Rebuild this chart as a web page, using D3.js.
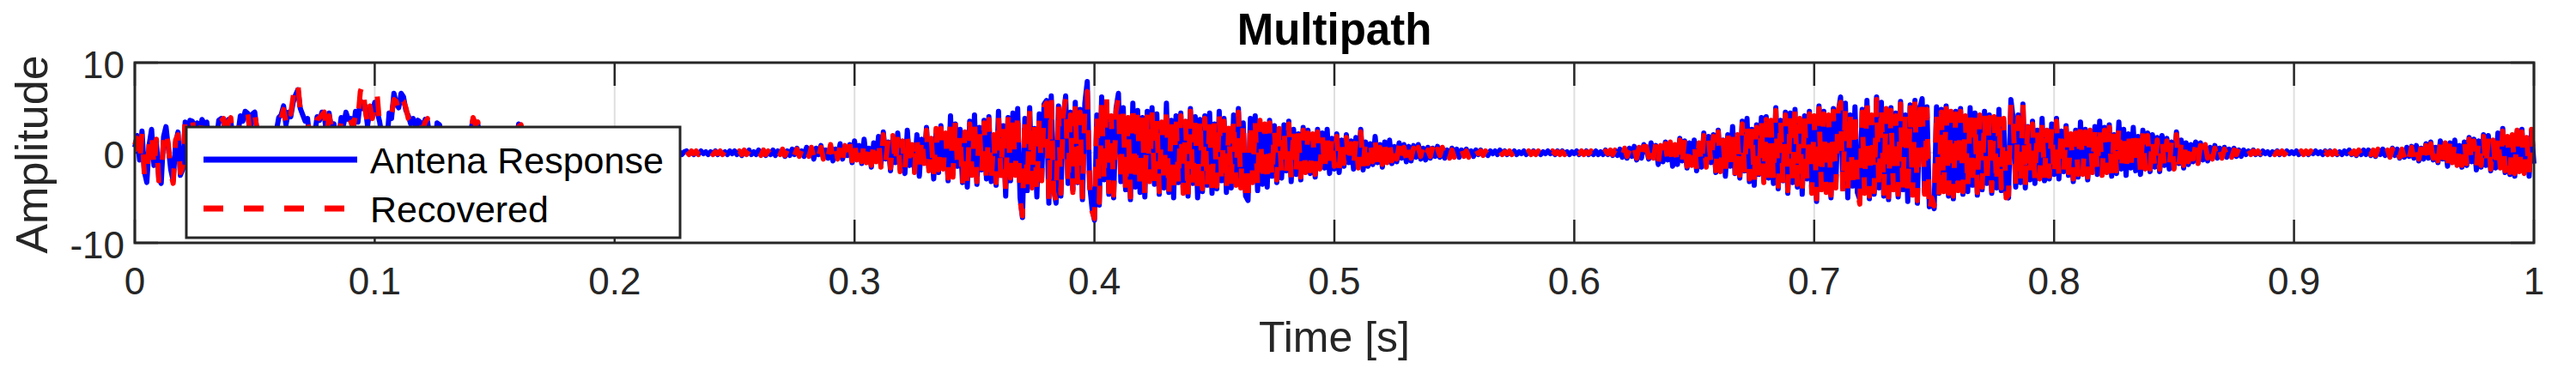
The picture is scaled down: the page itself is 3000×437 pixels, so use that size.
<!DOCTYPE html>
<html>
<head>
<meta charset="utf-8">
<script src="https://cdn.jsdelivr.net/npm/d3@7"></script>
<style>
  html, body { margin: 0; padding: 0; background: #fff; }
  svg { display: block; }
  text { font-family: "Liberation Sans", Arial, Helvetica, sans-serif; }
</style>
</head>
<body>
<svg id="chart" width="3000" height="437"></svg>
<script>
// ---- Data ----
const chartTitle = "Multipath";
const xLabel = "Time [s]";
const yLabel = "Amplitude";
const seriesNames = ["Antena Response", "Recovered"];
const sampleStep = 0.001; // seconds between samples, t = 0 .. 1

const xTickValues = [0, 0.1, 0.2, 0.3, 0.4, 0.5, 0.6, 0.7, 0.8, 0.9, 1];
const xTickLabels = ["0", "0.1", "0.2", "0.3", "0.4", "0.5", "0.6", "0.7", "0.8", "0.9", "1"];
const yTickValues = [-10, 0, 10];
const yTickLabels = ["-10", "0", "10"];

// one row = 10 samples = 0.01 s
const antenna = [
  0.6,1.9,-0.8,2.4,-2.1,-3.3,0.9,2.6,-1.4,1.2,
  -2.8,-3.4,1.8,2.9,0.5,-1.9,-3.1,1.1,2.3,-2.5,
  -1.8,3.4,1.2,3.6,3.5,0.8,3.3,1.5,3.7,3.2,
  3.4,0.9,1.6,0.5,1.2,3.6,3.8,3.5,1.4,3.7,
  3.6,1.0,0.7,2.1,4.1,3.5,4.6,4.4,2.5,4.3,
  4.5,2.2,1.3,0.8,1.9,0.6,1.4,0.9,1.7,2.4,
  3.9,4.2,5.2,3.1,4.5,4.0,5.6,6.4,7.0,4.9,
  4.2,3.5,3.8,1.3,0.9,2.1,4.0,3.6,4.5,4.2,
  1.8,4.4,2.5,3.2,1.0,1.6,3.9,3.1,4.5,3.7,
  3.8,2.4,4.6,3.4,5.8,4.9,5.2,3.0,4.8,4.1,
  5.6,4.6,3.5,1.9,1.2,0.8,4.4,3.8,6.6,5.4,
  5.0,6.6,6.2,4.7,4.1,3.2,3.8,2.9,3.6,3.4,
  2.2,3.7,3.5,1.5,1.0,0.6,3.3,3.1,1.9,0.8,
  1.6,0.4,0.9,1.3,2.4,0.7,1.1,0.5,1.8,1.2,
  2.4,3.7,3.4,3.1,1.2,0.7,1.8,0.9,0.4,1.3,
  1.8,0.4,1.3,0.6,2.1,1.5,0.8,1.9,2.6,1.1,
  3.2,2.8,1.2,0.4,-0.8,1.5,0.3,-0.6,0.9,-1.1,
  0.5,1.0,-0.4,0.7,-0.9,0.3,0.8,-0.5,0.2,0.6,
  -0.7,0.4,-0.3,0.5,-0.6,0.3,-0.4,0.6,-0.2,0.3,
  -0.4,0.2,-0.3,0.4,-0.2,0.1,-0.3,0.2,-0.1,0.3,
  -0.2,0.2,-0.1,0.3,-0.3,0.1,-0.2,0.2,-0.1,0.1,
  -0.2,0.3,-0.1,0.2,-0.2,0.1,-0.3,0.2,-0.2,0.1,
  -0.1,0.2,-0.2,0.1,-0.1,0.2,-0.1,0.1,-0.2,0.1,
  0.2,-0.1,0.1,-0.2,0.1,-0.1,0.2,-0.1,0.1,-0.2,
  0.1,-0.1,0.2,-0.2,0.1,-0.1,0.1,-0.2,0.2,-0.1,
  0.2,-0.2,0.1,-0.3,0.2,-0.1,0.3,-0.2,0.1,-0.2,
  0.3,-0.2,0.2,-0.3,0.1,-0.2,0.3,-0.3,0.2,-0.1,
  0.3,-0.4,0.2,-0.3,0.4,-0.2,0.5,-0.3,0.2,-0.4,
  0.6,-0.3,0.4,-0.7,0.5,-0.2,0.8,-0.5,0.3,-0.6,
  0.7,-0.9,0.4,-0.5,1.0,-0.7,0.6,-0.3,0.9,-1.1,
  1.3,-0.6,0.8,-1.2,1.5,-0.9,0.5,-1.6,1.1,-0.8,
  1.8,-1.3,2.3,-0.7,1.2,-2.0,1.6,-1.1,2.2,-1.8,
  1.0,-2.3,2.5,-1.4,0.6,-1.9,2.0,-2.6,1.5,-0.9,
  2.8,-1.7,1.3,-2.9,2.4,-2.2,3.0,-1.5,1.9,-3.1,
  4.1,-2.4,3.2,-1.5,2.6,-3.3,2.0,-3.8,3.5,-2.2,
  4.2,-3.5,2.8,-1.9,3.6,-2.9,4.0,-3.2,1.7,-3.6,
  4.6,-2.5,3.0,-4.8,3.9,-3.1,4.4,-2.2,4.9,-5.0,
  -7.2,3.8,-4.2,5.0,-3.6,2.7,-4.9,4.3,-2.8,5.4,
  5.8,-5.6,6.3,-4.0,-5.6,5.2,-4.8,3.9,6.3,-3.4,
  4.5,-4.1,5.6,-3.3,4.8,-5.2,5.5,7.9,-3.5,-6.2,
  -7.5,4.2,-5.8,6.2,-3.0,5.5,-4.6,3.8,-5.0,4.9,
  6.6,-3.2,5.0,-4.1,3.6,-5.2,5.5,-3.8,4.7,-4.4,
  3.9,-4.9,4.6,-2.9,5.0,-3.5,4.3,-4.6,3.1,-3.9,
  5.5,-4.4,3.6,-5.0,4.1,-3.3,4.4,-4.2,3.2,-4.8,
  4.9,-3.4,4.0,-5.0,3.7,-4.3,4.1,-3.6,4.4,-4.5,
  3.2,-4.0,4.6,-3.1,3.8,-4.4,2.7,-3.9,4.2,-3.3,
  4.9,-3.6,3.3,-4.8,-5.3,3.8,-3.0,4.1,-4.2,3.3,
  -3.5,2.9,-3.8,3.6,-2.6,3.0,-3.3,2.4,-2.8,3.1,
  -2.0,3.5,-3.2,2.6,-2.4,2.1,-3.0,2.8,-1.9,2.5,
  -2.3,1.8,-2.7,2.6,-1.5,2.2,-1.7,2.6,-2.3,1.6,
  -1.8,2.1,-2.2,1.4,-1.5,2.0,-1.1,1.3,-1.8,1.7,
  -1.4,2.6,-1.9,1.2,-1.5,1.0,-1.3,1.8,-1.1,0.9,
  -1.6,1.2,-0.8,1.4,-1.2,0.7,-1.0,1.1,-0.6,0.9,
  -1.0,0.7,-0.9,0.8,-0.5,0.9,-0.7,0.5,-0.8,0.6,
  -0.6,0.5,-0.4,0.7,-0.5,0.4,-0.6,0.3,-0.4,0.5,
  -0.3,0.4,-0.5,0.3,-0.2,0.4,-0.3,0.2,-0.4,0.3,
  -0.2,0.3,-0.2,0.1,-0.3,0.2,-0.1,0.2,-0.2,0.3,
  -0.1,0.2,-0.2,0.1,-0.1,0.2,-0.2,0.1,-0.1,0.2,
  -0.2,0.1,-0.1,0.2,-0.1,0.1,-0.2,0.1,-0.1,0.2,
  -0.1,0.1,-0.2,0.2,-0.1,0.2,-0.1,0.1,-0.2,0.1,
  -0.1,0.2,-0.2,0.1,-0.1,0.2,-0.2,0.1,-0.2,0.2,
  -0.2,0.1,-0.2,0.3,-0.2,0.2,-0.3,0.2,-0.3,0.4,
  -0.5,0.3,-0.6,0.5,-0.4,0.7,-0.8,0.4,-0.6,0.9,
  0.5,-0.7,1.1,-0.4,0.8,-1.3,0.6,-1.0,1.2,-0.8,
  1.0,-1.5,0.7,-1.3,1.6,-0.9,1.3,-1.7,1.1,-1.2,
  1.4,-2.0,0.9,-1.6,2.2,-1.3,1.8,-1.1,2.0,-2.2,
  2.5,-1.8,1.4,-2.6,2.0,-1.5,2.9,-2.3,1.7,-2.8,
  3.5,-2.0,3.8,-3.2,2.6,-3.6,3.1,-2.4,3.9,-3.0,
  4.0,-2.8,3.3,-3.4,5.0,-4.0,3.6,-3.1,4.5,-4.5,
  4.4,-3.3,4.8,-3.8,3.5,-4.6,4.1,-2.9,4.6,-4.2,
  3.8,-5.4,5.2,-3.8,4.6,-4.1,3.9,-5.0,4.9,-3.6,
  4.4,6.2,-4.0,5.5,-5.0,4.2,-3.7,5.1,-4.4,-5.2,
  4.8,-4.2,5.8,-5.1,3.9,-4.6,6.2,-3.9,5.6,-4.8,
  4.6,-5.2,5.0,-3.8,4.4,-4.9,5.7,-4.1,4.2,-5.4,
  5.3,-4.4,5.8,-5.6,4.9,6.0,-4.3,5.1,-6.0,-5.3,
  -6.2,5.1,-4.5,4.8,-4.0,5.2,-4.8,4.3,-5.1,4.6,
  -3.9,4.9,-4.6,3.8,-4.3,5.0,-3.6,4.4,-4.7,3.9,
  -4.1,4.6,-3.4,4.2,-4.5,3.7,-3.9,4.8,-4.2,3.5,
  -4.6,-5.0,5.9,3.6,-3.8,4.2,-3.3,5.4,-3.9,2.9,
  -3.0,3.5,-3.4,2.5,-2.6,3.8,-3.1,2.2,-2.9,3.2,
  -2.4,3.8,-2.9,2.4,-2.1,3.0,-2.5,1.8,-3.2,2.5,
  -2.7,3.4,-2.1,2.6,-3.0,2.2,-1.9,2.9,-2.4,3.5,
  -2.2,2.8,-1.9,3.1,-2.6,2.0,-2.3,3.4,-1.8,2.6,
  -2.5,2.1,-1.7,2.8,-2.0,1.8,-2.4,2.5,-1.5,2.2,
  -2.1,2.0,-1.6,1.7,-2.1,1.9,-1.4,1.6,-1.8,1.2,
  -1.5,2.3,-1.2,1.4,-1.7,1.1,-1.3,0.9,-1.0,1.2,
  -0.9,1.1,-0.8,0.7,-0.9,0.6,-0.5,0.8,-0.6,0.5,
  -0.4,0.6,-0.5,0.4,-0.3,0.5,-0.4,0.3,-0.4,0.3,
  -0.2,0.2,-0.1,0.3,-0.2,0.1,-0.2,0.2,-0.1,0.1,
  -0.2,0.1,-0.1,0.2,-0.2,0.1,-0.1,0.2,-0.1,0.1,
  -0.1,0.2,-0.2,0.1,-0.1,0.1,-0.2,0.1,-0.1,0.2,
  -0.1,0.1,-0.2,0.2,-0.1,0.2,-0.1,0.1,-0.2,0.1,
  -0.2,0.2,-0.1,0.3,-0.2,0.1,-0.3,0.2,-0.2,0.3,
  -0.2,0.3,-0.3,0.2,-0.4,0.3,-0.2,0.4,-0.3,0.2,
  -0.4,0.5,-0.3,0.4,-0.6,0.3,-0.5,0.6,-0.4,0.7,
  -0.6,0.8,-0.9,0.5,-0.7,1.0,-0.6,1.2,-0.8,0.6,
  -1.1,1.3,-0.7,0.9,-1.5,1.1,-0.9,1.4,-1.2,0.8,
  -1.6,1.2,-1.4,1.7,-1.0,1.5,-1.9,1.3,-1.6,2.0,
  -1.4,1.9,-2.0,1.2,-1.7,2.2,-1.5,2.7,-2.2,1.6,
  -2.4,1.8,-2.6,2.3,-1.9,2.6,-2.1,1.5,-2.6,2.4,
  -1.2
];

const recovered = [
  0.9,1.6,-1.1,2.1,-2.5,-2.9,1.2,2.3,-1.7,1.5,
  -3.1,-3.0,1.5,2.6,0.8,-2.3,-3.4,1.4,2.0,-2.2,
  -1.5,3.7,0.9,3.3,3.8,1.1,3.0,1.8,3.4,3.5,
  3.1,1.2,1.3,0.8,1.5,3.3,3.5,3.8,1.1,3.4,
  3.9,1.3,1.0,1.8,3.7,3.8,4.2,4.6,2.2,4.0,
  4.2,2.5,1.0,1.1,1.6,0.9,1.1,1.2,1.4,2.7,
  4.2,3.8,4.8,3.4,4.9,4.3,6.2,7.9,7.6,4.5,
  3.9,3.8,3.5,1.6,1.2,1.8,3.7,3.9,4.2,4.5,
  2.1,4.1,2.8,2.9,1.3,1.3,3.6,3.4,4.2,4.0,
  3.5,2.7,4.3,3.7,6.8,7.6,4.8,3.3,5.2,3.8,
  5.3,6.5,3.2,2.2,1.5,1.1,4.1,4.2,5.9,5.7,
  4.6,5.9,5.7,5.0,3.8,3.5,3.5,3.2,3.3,3.7,
  2.5,3.4,3.8,1.2,1.3,0.9,3.0,3.4,1.6,1.1,
  1.3,0.7,1.2,1.0,2.1,1.0,0.8,0.8,1.5,1.5,
  2.1,3.9,3.1,3.4,1.5,1.0,1.5,1.2,0.7,1.0,
  1.5,0.7,1.0,0.9,1.8,1.8,1.1,1.6,2.3,1.4,
  2.9,3.1,0.9,0.7,-0.5,1.2,0.6,-0.9,1.2,-0.8,
  0.8,0.7,-0.6,0.5,-0.7,0.5,0.6,-0.3,0.4,0.4,
  -0.5,0.2,-0.1,0.3,-0.4,0.1,-0.2,0.4,-0.1,0.2,
  -0.2,0.1,-0.2,0.3,-0.1,0.2,-0.2,0.1,0.1,0.2,
  -0.1,0.1,-0.2,0.2,-0.2,0.2,-0.1,0.1,-0.2,0.2,
  -0.1,0.2,-0.2,0.1,-0.1,0.2,-0.2,0.1,-0.1,0.2,
  -0.2,0.1,-0.1,0.2,-0.2,0.1,-0.2,0.2,-0.1,0.2,
  0.1,-0.2,0.2,-0.1,0.2,-0.2,0.1,-0.2,0.2,-0.1,
  0.2,-0.2,0.1,-0.1,0.2,-0.2,0.2,-0.1,0.1,-0.2,
  0.1,-0.1,0.2,-0.2,0.3,-0.2,0.2,-0.3,0.2,-0.1,
  0.2,-0.3,0.3,-0.2,0.2,-0.3,0.2,-0.2,0.3,-0.2,
  0.4,-0.3,0.3,-0.4,0.3,-0.3,0.4,-0.4,0.3,-0.3,
  0.5,-0.4,0.6,-0.5,0.4,-0.4,0.6,-0.7,0.5,-0.4,
  0.9,-0.7,0.6,-0.7,0.8,-0.9,0.8,-0.5,1.1,-0.9,
  1.1,-0.8,1.0,-1.0,1.3,-1.1,0.7,-1.4,1.3,-1.0,
  1.5,-1.6,2.0,-1.0,1.5,-1.7,1.9,-1.4,1.9,-2.1,
  1.3,-2.0,2.2,-1.7,0.9,-2.2,1.7,-2.3,1.8,-1.2,
  2.5,-2.0,1.6,-2.6,2.7,-1.9,2.7,-1.8,2.2,-2.8,
  3.8,-2.7,3.5,-1.8,2.3,-3.6,2.3,-3.5,3.2,-2.5,
  3.9,-3.2,3.1,-2.2,3.3,-3.2,3.7,-3.5,2.0,-3.3,
  4.3,-2.8,3.3,-4.5,4.2,-2.8,4.1,-2.5,4.6,-5.3,
  -7.0,4.1,-3.9,4.7,-3.9,3.0,-4.6,4.0,-3.1,5.1,
  5.5,-5.2,5.9,-4.3,-5.3,5.5,-4.5,4.2,6.0,-3.7,
  4.2,-4.4,5.3,-3.6,4.5,-4.9,5.2,6.8,-3.8,-6.5,
  -7.3,4.5,-5.5,5.8,-3.3,6.6,-4.3,4.1,-4.7,4.6,
  6.2,-3.5,4.7,-4.4,3.9,-4.9,5.5,-3.5,5.0,-4.1,
  4.2,-4.6,4.3,-3.2,4.7,-3.8,4.0,-4.3,3.4,-3.6,
  5.2,-4.7,3.9,-4.7,4.4,-3.6,4.1,-4.5,3.5,-5.0,
  4.6,-3.7,4.3,-4.7,4.0,-4.0,3.8,-3.9,4.1,-4.8,
  3.5,-3.7,4.3,-3.4,3.5,-4.1,3.0,-3.6,3.9,-3.6,
  4.5,-3.9,3.6,-4.5,-5.6,3.5,-3.3,3.8,-3.9,3.6,
  -3.2,3.2,-3.5,3.3,-2.9,2.7,-3.0,2.7,-2.5,2.8,
  -2.3,3.2,-2.9,2.9,-2.1,2.4,-2.7,2.5,-2.2,2.2,
  -2.0,2.1,-2.4,2.3,-1.8,1.9,-2.0,2.3,-2.0,1.9,
  -1.5,1.8,-1.9,1.7,-1.2,1.7,-1.4,1.0,-1.5,1.4,
  -1.7,2.3,-1.6,1.5,-1.2,1.3,-1.0,1.5,-1.4,0.6,
  -1.3,0.9,-1.1,1.1,-0.9,1.0,-0.7,0.8,-0.9,0.6,
  -0.7,0.9,-0.6,0.5,-0.8,0.6,-0.4,0.8,-0.5,0.3,
  -0.4,0.7,-0.6,0.4,-0.3,0.6,-0.3,0.5,-0.6,0.3,
  -0.5,0.2,-0.3,0.5,-0.4,0.2,-0.5,0.4,-0.2,0.4,
  -0.1,0.2,-0.3,0.2,-0.2,0.1,-0.2,0.1,-0.1,0.2,
  -0.2,0.1,-0.1,0.2,-0.2,0.1,-0.1,0.2,-0.2,0.1,
  -0.1,0.2,-0.2,0.1,-0.2,0.2,-0.1,0.2,-0.2,0.1,
  -0.2,0.2,-0.1,0.1,-0.2,0.1,-0.2,0.2,-0.1,0.2,
  -0.2,0.1,-0.1,0.2,-0.2,0.1,-0.1,0.2,-0.1,0.1,
  -0.1,0.2,-0.3,0.2,-0.1,0.3,-0.2,0.3,-0.2,0.3,
  -0.4,0.5,-0.4,0.3,-0.6,0.5,-0.6,0.6,-0.8,0.7,
  0.7,-0.5,0.9,-0.6,1.0,-1.1,0.8,-0.8,1.0,-1.0,
  1.2,-1.3,0.9,-1.5,1.4,-1.1,1.5,-1.5,0.9,-1.4,
  1.2,-1.8,1.1,-1.4,1.9,-1.6,1.6,-1.4,1.8,-2.0,
  2.3,-2.1,1.7,-2.3,2.3,-1.8,2.6,-2.6,2.0,-2.5,
  3.2,-2.3,3.5,-2.9,2.9,-3.3,2.8,-2.7,3.6,-3.3,
  3.7,-3.1,3.6,-3.1,4.7,-3.7,3.9,-3.4,4.2,-4.2,
  4.1,-3.6,5.0,-3.5,3.8,-4.3,4.4,-3.2,4.3,-4.5,
  4.1,-5.1,4.9,-4.1,4.3,-4.4,4.2,-4.7,4.6,-3.9,
  4.7,5.6,-4.3,5.2,-4.7,4.5,-4.0,4.8,-4.1,-5.7,
  4.5,-4.5,6.2,-4.8,4.2,-4.3,5.9,-4.2,5.3,-4.5,
  4.9,-4.9,4.7,-4.1,4.1,-4.6,5.4,-4.4,4.5,-5.1,
  5.0,-4.7,6.2,-5.3,4.6,6.2,-4.6,4.8,-6.7,-5.0,
  -5.9,4.8,-4.8,4.5,-4.3,4.9,-4.5,4.6,-4.8,4.3,
  -4.2,4.6,-4.3,4.1,-4.0,4.7,-3.9,4.1,-4.4,4.2,
  -3.8,4.3,-3.7,3.9,-4.2,4.0,-3.6,4.5,-3.9,3.8,
  -5.0,-4.7,5.4,3.3,-3.5,3.9,-3.6,5.7,-3.6,3.2,
  -2.7,3.2,-3.1,2.8,-2.9,3.5,-2.8,2.5,-2.6,2.9,
  -2.7,3.5,-2.6,2.7,-2.4,2.7,-2.2,2.1,-2.9,2.2,
  -2.4,3.7,-2.4,2.3,-2.7,2.5,-2.2,2.6,-2.1,3.2,
  -2.5,2.5,-2.2,2.8,-2.3,2.3,-2.0,3.1,-2.1,2.3,
  -2.2,2.4,-2.0,2.5,-1.7,2.1,-2.1,2.2,-1.8,1.9,
  -1.8,1.7,-1.9,1.4,-1.8,1.6,-1.7,1.3,-1.5,1.5,
  -1.8,2.0,-1.5,1.1,-1.4,1.4,-1.0,1.2,-0.7,0.9,
  -1.2,0.8,-0.6,0.9,-0.6,0.8,-0.7,0.5,-0.8,0.3,
  -0.6,0.4,-0.3,0.6,-0.5,0.3,-0.2,0.5,-0.2,0.2,
  -0.1,0.3,-0.2,0.2,-0.1,0.2,-0.1,0.1,-0.2,0.2,
  -0.1,0.2,-0.2,0.1,-0.1,0.2,-0.2,0.1,-0.2,0.2,
  -0.2,0.1,-0.1,0.2,-0.2,0.2,-0.1,0.2,-0.2,0.1,
  -0.2,0.2,-0.1,0.1,-0.2,0.1,-0.2,0.2,-0.1,0.2,
  -0.1,0.3,-0.2,0.2,-0.1,0.2,-0.2,0.3,-0.3,0.2,
  -0.3,0.2,-0.2,0.3,-0.3,0.4,-0.3,0.3,-0.2,0.3,
  -0.5,0.4,-0.4,0.5,-0.5,0.4,-0.6,0.5,-0.5,0.6,
  -0.8,0.6,-0.7,0.7,-0.9,0.8,-0.8,1.0,-0.6,0.8,
  -0.9,1.1,-0.9,1.1,-1.3,1.3,-1.1,1.2,-1.4,1.0,
  -1.4,1.4,-1.2,1.5,-1.2,1.3,-1.7,1.5,-1.4,1.8,
  -1.6,1.7,-1.8,1.4,-1.9,2.0,-1.7,2.4,-2.0,1.8,
  -2.2,2.0,-2.3,2.5,-2.1,2.3,-2.3,1.7,-2.4,2.6,
  -1.5
];

// ---- Layout ----
const plot = { left: 157, right: 2951, top: 73, bottom: 283 };
const axisColor = "#262626";

const svg = d3.select("#chart");
const x = d3.scaleLinear().domain([0, 1]).range([plot.left, plot.right]);
const y = d3.scaleLinear().domain([-10, 10]).range([plot.bottom, plot.top]);

// grid
const grid = svg.append("g");
grid.selectAll("line.gx").data(xTickValues).enter().append("line")
  .attr("x1", d => x(d)).attr("x2", d => x(d))
  .attr("y1", plot.top).attr("y2", plot.bottom)
  .attr("stroke", "#dfdfdf").attr("stroke-width", 2);
grid.selectAll("line.gy").data(yTickValues).enter().append("line")
  .attr("x1", plot.left).attr("x2", plot.right)
  .attr("y1", d => y(d)).attr("y2", d => y(d))
  .attr("stroke", "#dfdfdf").attr("stroke-width", 2);

// ticks (inside, on all four sides)
const tickLen = 27;
const ticks = svg.append("g").attr("stroke", axisColor).attr("stroke-width", 2.5);
xTickValues.forEach(v => {
  ticks.append("line").attr("x1", x(v)).attr("x2", x(v)).attr("y1", plot.bottom).attr("y2", plot.bottom - tickLen);
  ticks.append("line").attr("x1", x(v)).attr("x2", x(v)).attr("y1", plot.top).attr("y2", plot.top + tickLen);
});
yTickValues.forEach(v => {
  ticks.append("line").attr("x1", plot.left).attr("x2", plot.left + tickLen).attr("y1", y(v)).attr("y2", y(v));
  ticks.append("line").attr("x1", plot.right).attr("x2", plot.right - tickLen).attr("y1", y(v)).attr("y2", y(v));
});

// data
const line = d3.line()
  .x((d, i) => x(i * sampleStep))
  .y(d => y(d));

const dataG = svg.append("g");
dataG.append("path").datum(antenna)
  .attr("d", line)
  .attr("fill", "none").attr("stroke", "#0000ff")
  .attr("stroke-width", 6).attr("stroke-linejoin", "round");
dataG.append("path").datum(recovered)
  .attr("d", line)
  .attr("fill", "none").attr("stroke", "#ff0000")
  .attr("stroke-width", 6).attr("stroke-linejoin", "round")
  .attr("stroke-dasharray", "23 24");

// box
svg.append("rect")
  .attr("x", plot.left).attr("y", plot.top)
  .attr("width", plot.right - plot.left).attr("height", plot.bottom - plot.top)
  .attr("fill", "none").attr("stroke", axisColor).attr("stroke-width", 3);

// tick labels
svg.append("g").selectAll("text").data(xTickValues).enter().append("text")
  .attr("x", d => x(d)).attr("y", 343)
  .attr("text-anchor", "middle")
  .attr("font-size", 44).attr("fill", axisColor)
  .text((d, i) => xTickLabels[i]);
svg.append("g").selectAll("text").data(yTickValues).enter().append("text")
  .attr("x", 145).attr("y", d => y(d))
  .attr("dy", "0.42em")
  .attr("text-anchor", "end")
  .attr("font-size", 44).attr("fill", axisColor)
  .text((d, i) => yTickLabels[i]);

// axis labels and title
svg.append("text")
  .attr("x", (plot.left + plot.right) / 2).attr("y", 410)
  .attr("text-anchor", "middle").attr("font-size", 50).attr("fill", axisColor)
  .text(xLabel);
svg.append("text")
  .attr("transform", `translate(55,${(plot.top + plot.bottom) / 2 + 2}) rotate(-90)`)
  .attr("text-anchor", "middle").attr("font-size", 52).attr("fill", axisColor)
  .text(yLabel);
svg.append("text")
  .attr("x", (plot.left + plot.right) / 2).attr("y", 52)
  .attr("text-anchor", "middle").attr("font-size", 51).attr("font-weight", "bold")
  .attr("fill", "#000")
  .text(chartTitle);

// legend
const leg = svg.append("g");
leg.append("rect")
  .attr("x", 217).attr("y", 148).attr("width", 575).attr("height", 129)
  .attr("fill", "#fff").attr("stroke", axisColor).attr("stroke-width", 3);
const legendRows = [
  { name: seriesNames[0], color: "#0000ff", dash: null, y: 186 },
  { name: seriesNames[1], color: "#ff0000", dash: "23 24", y: 243 }
];
legendRows.forEach(r => {
  const l = leg.append("line")
    .attr("x1", 237).attr("x2", 416).attr("y1", r.y).attr("y2", r.y)
    .attr("stroke", r.color).attr("stroke-width", 7);
  if (r.dash) l.attr("stroke-dasharray", r.dash);
  leg.append("text")
    .attr("x", 431).attr("y", r.y + 16)
    .attr("font-size", 43).attr("fill", "#000")
    .text(r.name);
});
</script>
</body>
</html>
